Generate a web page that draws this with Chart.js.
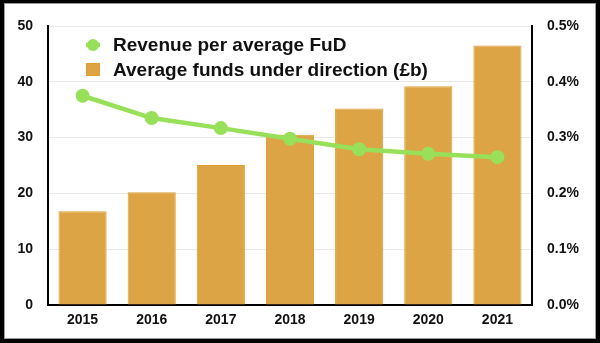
<!DOCTYPE html>
<html>
<head>
<meta charset="utf-8">
<script src="https://cdn.jsdelivr.net/npm/chart.js@4.4.1/dist/chart.umd.min.js"></script>
<style>
  html, body { margin: 0; padding: 0; background: #fff; }
  #wrap { position: relative; width: 600px; height: 343px; }
  #c { position: absolute; left: 0; top: 0; }
  #frame { position: absolute; left: 0; top: 0; width: 600px; height: 343px; box-sizing: border-box;
           border: 4px solid #000; border-top-width: 3px; box-shadow: inset 0 0 0 1px #999; pointer-events: none; }
</style>
</head>
<body>
<div id="wrap">
  <canvas id="c" width="600" height="343"></canvas>
  <div id="frame"></div>
</div>
<script>
const categories = ['2015', '2016', '2017', '2018', '2019', '2020', '2021'];
const revenueLabel = 'Revenue per average FuD';
const revenuePct = [0.375, 0.335, 0.317, 0.298, 0.279, 0.271, 0.265];
const fundsLabel = 'Average funds under direction (£b)';
const fundsBn = [16.8, 20.2, 25.1, 30.5, 35.2, 39.2, 46.5];

const FONT = "'Liberation Sans', Arial, Helvetica, sans-serif";
const GREEN = '#98E05A';
const BAR = '#DCA444';
const BAR_BORDER = '#E09E2C';

const customLegend = {
  id: 'customLegend',
  afterDatasetsDraw(chart) {
    const ctx = chart.ctx;
    const area = chart.chartArea;
    const x0 = area.left + 38;
    const rows = [area.top + 19, area.top + 44];
    ctx.save();
    // row 1: line + point
    ctx.strokeStyle = GREEN;
    ctx.lineWidth = 4.5;
    ctx.beginPath();
    ctx.moveTo(x0, rows[0]);
    ctx.lineTo(x0 + 14, rows[0]);
    ctx.stroke();
    ctx.fillStyle = GREEN;
    ctx.beginPath();
    ctx.arc(x0 + 7, rows[0], 6, 0, Math.PI * 2);
    ctx.fill();
    // row 2: square
    ctx.fillStyle = BAR;
    ctx.fillRect(x0, rows[1] - 7, 14, 13);
    ctx.strokeStyle = BAR_BORDER;
    ctx.lineWidth = 1;
    ctx.strokeRect(x0 + 0.5, rows[1] - 6.5, 13, 12);
    // text
    ctx.fillStyle = '#111';
    ctx.font = 'bold 19px ' + FONT;
    ctx.textBaseline = 'middle';
    ctx.textAlign = 'left';
    const labels = chart.data.datasets.map(d => d.label);
    ctx.fillText(labels[0], x0 + 27, rows[0] + 1);
    ctx.fillText(labels[1], x0 + 27, rows[1] + 1);
    ctx.restore();
  }
};

new Chart(document.getElementById('c'), {
  data: {
    labels: categories,
    datasets: [
      {
        type: 'line',
        label: revenueLabel,
        data: revenuePct,
        yAxisID: 'y1',
        borderColor: GREEN,
        backgroundColor: GREEN,
        borderWidth: 4.5,
        pointRadius: 7,
        pointHoverRadius: 7,
        pointBorderWidth: 0,
        tension: 0
      },
      {
        type: 'bar',
        label: fundsLabel,
        data: fundsBn,
        yAxisID: 'y',
        backgroundColor: BAR,
        borderColor: BAR_BORDER,
        borderWidth: 1,
        categoryPercentage: 0.8,
        barPercentage: 0.87
      }
    ]
  },
  options: {
    responsive: false,
    animation: false,
    devicePixelRatio: 1,
    layout: { padding: { top: 26, left: 0, right: 0, bottom: 0 } },
    plugins: { legend: { display: false }, tooltip: { enabled: false } },
    font: { family: FONT },
    scales: {
      x: {
        grid: { display: false, drawTicks: false },
        border: { color: '#000', width: 2 },
        ticks: { color: '#111', padding: 7, font: { family: FONT, size: 14, weight: 'bold' } },
        afterFit(s) { s.height = 38; }
      },
      y: {
        position: 'left',
        min: 0, max: 50,
        ticks: { stepSize: 10, color: '#111', padding: 15, font: { family: FONT, size: 14, weight: 'bold' } },
        grid: { color: '#E8E8E8', lineWidth: 1, drawTicks: false },
        border: { color: '#000', width: 2 },
        afterFit(s) { s.width = 48; }
      },
      y1: {
        position: 'right',
        min: 0, max: 0.5,
        ticks: { stepSize: 0.1, color: '#111', padding: 15, font: { family: FONT, size: 14, weight: 'bold' },
                 callback: v => Number(v).toFixed(1) + '%' },
        grid: { display: false, drawTicks: false },
        border: { color: '#000', width: 2 },
        afterFit(s) { s.width = 68; }
      }
    }
  },
  plugins: [customLegend]
});
</script>
</body>
</html>
